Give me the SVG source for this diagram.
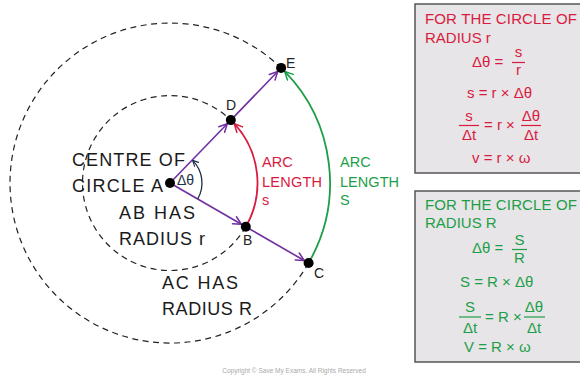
<svg xmlns="http://www.w3.org/2000/svg" width="580" height="375" viewBox="0 0 580 375">
<style>
  text { font-family: "Liberation Sans", Arial, sans-serif; }
  .lbl { font-size: 18px; fill: #1a1a1a; }
  .pt { font-size: 14px; fill: #222; }
  .red { fill: #d81b3f; }
  .grn { fill: #1e9e48; }
  .bx { font-size: 15px; }
  .sm { font-size: 14.5px; }
  .dash { fill: none; stroke: #222; stroke-width: 1.2; stroke-dasharray: 6 4.5; }
  .pur { fill: none; stroke: #7030a0; stroke-width: 1.6; }
  .box { fill: #e7e5e7; stroke: #555; stroke-width: 1.5; }
  .fl { stroke-width: 1.2; }
</style>
<defs>
  <marker id="ap" viewBox="0 0 10 10" refX="9" refY="5" markerWidth="10" markerHeight="10" markerUnits="userSpaceOnUse" orient="auto">
    <path d="M1,1 L9,5 L1,9" fill="none" stroke="#7030a0" stroke-width="1.5" stroke-linecap="round" stroke-linejoin="round"/>
  </marker>
  <marker id="ar" viewBox="0 0 10 10" refX="9" refY="5" markerWidth="10" markerHeight="10" markerUnits="userSpaceOnUse" orient="auto">
    <path d="M1,1 L9,5 L1,9" fill="none" stroke="#d81b3f" stroke-width="1.5" stroke-linecap="round" stroke-linejoin="round"/>
  </marker>
  <marker id="ag" viewBox="0 0 10 10" refX="9" refY="5" markerWidth="10" markerHeight="10" markerUnits="userSpaceOnUse" orient="auto">
    <path d="M1,1 L9,5 L1,9" fill="none" stroke="#1e9e48" stroke-width="1.5" stroke-linecap="round" stroke-linejoin="round"/>
  </marker>
  <marker id="an" viewBox="0 0 10 10" refX="9" refY="5" markerWidth="7" markerHeight="7" markerUnits="userSpaceOnUse" orient="auto">
    <path d="M1,1 L9,5 L1,9" fill="none" stroke="#1b2f45" stroke-width="1.6" stroke-linecap="round" stroke-linejoin="round"/>
  </marker>
</defs>
<rect width="580" height="375" fill="#ffffff"/>

<g id="circles">
  <path class="dash" d="M 245.8 226.75 A 87.5 87.5 0 1 1 230.8 120.1"/>
  <path class="dash" d="M 308.6 263 A 160 160 0 1 1 281.1 67.9"/>
</g>

<g id="connectors">
  <line class="pur" x1="170" y1="183" x2="227.3" y2="123.7" marker-end="url(#ap)"/>
  <line class="pur" x1="230.8" y1="120.1" x2="277.7" y2="71.5" marker-end="url(#ap)"/>
  <line class="pur" x1="170" y1="183" x2="241.4" y2="224.25" marker-end="url(#ap)"/>
  <line class="pur" x1="245.8" y1="226.75" x2="304.2" y2="260.5" marker-end="url(#ap)"/>
  <path d="M 245.8 226.75 A 87.5 87.5 0 0 0 234.3 123.7" fill="none" stroke="#d81b3f" stroke-width="1.8" marker-end="url(#ar)"/>
  <path d="M 308.6 263 A 160 160 0 0 0 284.7 71.45" fill="none" stroke="#1e9e48" stroke-width="1.8" marker-end="url(#ag)"/>
  <path d="M 197.7 199 A 32 32 0 0 0 192.6 160.4" fill="none" stroke="#1b2f45" stroke-width="1.3" marker-end="url(#an)"/>
</g>

<g id="A">
  <circle cx="170" cy="183" r="5" fill="#000"/>
  <text x="177" y="185" font-size="14" fill="#1b2f45">Δθ</text>
</g>
<g id="D">
  <circle cx="230.8" cy="120.1" r="5" fill="#000"/>
  <text x="226" y="110" class="pt">D</text>
</g>
<g id="E">
  <circle cx="281.1" cy="67.9" r="5" fill="#000"/>
  <text x="286" y="68" class="pt">E</text>
</g>
<g id="B">
  <circle cx="245.8" cy="226.75" r="5" fill="#000"/>
  <text x="243" y="245" class="pt">B</text>
</g>
<g id="C">
  <circle cx="308.6" cy="263" r="5" fill="#000"/>
  <text x="314" y="278" class="pt">C</text>
</g>

<g id="labels">
  <text x="72" y="166" class="lbl" textLength="113" lengthAdjust="spacing">CENTRE OF</text>
  <text x="72" y="192" class="lbl" textLength="91" lengthAdjust="spacing">CIRCLE A</text>
  <text x="119" y="219" class="lbl" textLength="76" lengthAdjust="spacing">AB HAS</text>
  <text x="119" y="245" class="lbl" textLength="86" lengthAdjust="spacing">RADIUS r</text>
  <text x="162" y="289" class="lbl" textLength="76" lengthAdjust="spacing">AC HAS</text>
  <text x="162" y="315" class="lbl" textLength="90" lengthAdjust="spacing">RADIUS R</text>
</g>

<g id="arc-s" class="red sm">
  <text x="262" y="167">ARC</text>
  <text x="262" y="187" textLength="60" lengthAdjust="spacing">LENGTH</text>
  <text x="262" y="205">s</text>
</g>
<g id="arc-S" class="grn sm">
  <text x="340" y="167">ARC</text>
  <text x="340" y="187" textLength="59" lengthAdjust="spacing">LENGTH</text>
  <text x="340" y="205">S</text>
</g>

<g id="box-r">
  <rect class="box" x="415" y="4" width="172" height="169"/>
  <g class="red bx">
    <text x="425" y="24" textLength="152" lengthAdjust="spacing">FOR THE CIRCLE OF</text>
    <text x="425" y="43">RADIUS r</text>
    <text x="472" y="67">Δθ =</text>
    <text x="518.5" y="57" text-anchor="middle">s</text>
    <line x1="512" y1="62.5" x2="525" y2="62.5" stroke="#d81b3f" class="fl"/>
    <text x="518.5" y="75" text-anchor="middle">r</text>
    <text x="467" y="98">s = r × Δθ</text>
    <text x="469" y="121" text-anchor="middle">s</text>
    <line x1="459" y1="125.5" x2="479" y2="125.5" stroke="#d81b3f" class="fl"/>
    <text x="469" y="140" text-anchor="middle">Δt</text>
    <text x="484" y="130">= r ×</text>
    <text x="531" y="121" text-anchor="middle">Δθ</text>
    <line x1="521" y1="125.5" x2="541" y2="125.5" stroke="#d81b3f" class="fl"/>
    <text x="531" y="140" text-anchor="middle">Δt</text>
    <text x="472" y="163">v = r × ω</text>
  </g>
</g>

<g id="box-R">
  <rect class="box" x="415" y="191" width="172" height="171"/>
  <g class="grn bx">
    <text x="425" y="210" textLength="152" lengthAdjust="spacing">FOR THE CIRCLE OF</text>
    <text x="425" y="228">RADIUS R</text>
    <text x="472" y="253">Δθ =</text>
    <text x="519.5" y="245" text-anchor="middle">S</text>
    <line x1="512" y1="249.5" x2="527" y2="249.5" stroke="#1e9e48" class="fl"/>
    <text x="519.5" y="263" text-anchor="middle">R</text>
    <text x="460" y="287">S = R × Δθ</text>
    <text x="470" y="312" text-anchor="middle">S</text>
    <line x1="459" y1="317" x2="481" y2="317" stroke="#1e9e48" class="fl"/>
    <text x="470" y="333" text-anchor="middle">Δt</text>
    <text x="485" y="322">= R ×</text>
    <text x="534" y="312" text-anchor="middle">Δθ</text>
    <line x1="524" y1="317" x2="545" y2="317" stroke="#1e9e48" class="fl"/>
    <text x="534" y="333" text-anchor="middle">Δt</text>
    <text x="464" y="352">V = R × ω</text>
  </g>
</g>

<text x="294" y="373" font-size="6.5" fill="#aaa" text-anchor="middle">Copyright © Save My Exams. All Rights Reserved</text>
</svg>
